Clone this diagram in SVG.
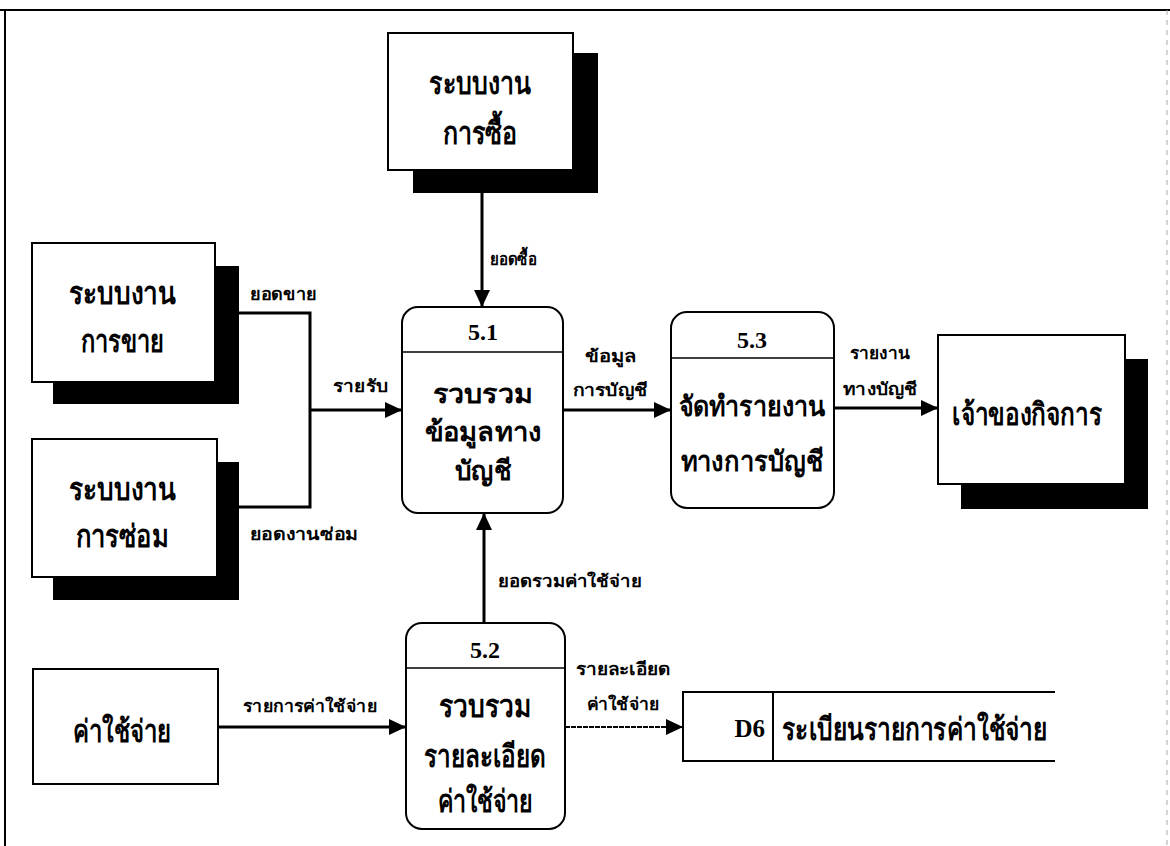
<svg xmlns="http://www.w3.org/2000/svg" width="1170" height="846" viewBox="0 0 1170 846">
<style>
.bg{fill:#fff}
.box{fill:#fff;stroke:#000;stroke-width:2}
.sh{fill:#000}
.proc{fill:#fff;stroke:#000;stroke-width:2}
.div{stroke:#000;stroke-width:1.5;fill:none}
.t{font-family:"Noto Sans","DejaVu Sans",sans-serif;font-weight:bold;font-size:31px;fill:#000;text-anchor:middle;dominant-baseline:central}
.tc{font-family:"Noto Sans","DejaVu Sans",sans-serif;font-weight:bold;font-size:27px;fill:#000;text-anchor:middle;dominant-baseline:central}
.tw{font-family:"Noto Sans","DejaVu Sans",sans-serif;font-weight:bold;font-size:28px;fill:#000;text-anchor:middle;dominant-baseline:central}
.ts{font-family:"Noto Sans","DejaVu Sans",sans-serif;font-weight:bold;font-size:31px;fill:#000;text-anchor:start;dominant-baseline:central}
.num{font-family:"Liberation Serif",serif;font-weight:bold;font-size:24px;fill:#000;text-anchor:middle;dominant-baseline:central}
.nume{font-family:"Liberation Serif",serif;font-weight:bold;font-size:25px;fill:#000;text-anchor:end;dominant-baseline:central}
.lb{font-family:"Noto Sans","DejaVu Sans",sans-serif;font-weight:bold;font-size:17px;fill:#000;text-anchor:start;dominant-baseline:central}
.lm{font-family:"Noto Sans","DejaVu Sans",sans-serif;font-weight:bold;font-size:17px;fill:#000;text-anchor:middle;dominant-baseline:central}
.c{stroke:#000;stroke-width:3;fill:none}
.cd{stroke:#000;stroke-width:2;fill:none;stroke-dasharray:5 1}
.frame{stroke:#000;stroke-width:2;fill:none}
</style>
<defs>
<marker id="ah" markerUnits="userSpaceOnUse" markerWidth="18" markerHeight="16" refX="17" refY="8" orient="auto">
<path d="M0,0 L17,8 L0,16 z" fill="#000"/>
</marker>
</defs>
<rect class="bg" x="0" y="0" width="1170" height="846"/>
<g id="frame">
<path class="frame" d="M0,10 H1170 M5,10 V846"/>
<path d="M1167,10 V846" stroke="#aaa" stroke-width="1" stroke-dasharray="5 5" fill="none"/>
</g>
<g id="connectors">
<path class="c" d="M482,193 V307" marker-end="url(#ah)"/>
<path class="c" d="M239,313 H310 V507 H239"/>
<path class="c" d="M310,410 H402" marker-end="url(#ah)"/>
<path class="c" d="M563,410 H671" marker-end="url(#ah)"/>
<path class="c" d="M834,408 H938" marker-end="url(#ah)"/>
<path class="c" d="M484,623 V513" marker-end="url(#ah)"/>
<path class="c" d="M218,727 H406" marker-end="url(#ah)"/>
<path class="cd" d="M565,727 H683" marker-end="url(#ah)"/>
<text class="lb" x="490" y="258" textLength="47" lengthAdjust="spacingAndGlyphs">ยอดซื้อ</text>
<text class="lb" x="250" y="293" textLength="67" lengthAdjust="spacingAndGlyphs">ยอดขาย</text>
<text class="lb" x="250" y="533" textLength="108" lengthAdjust="spacingAndGlyphs">ยอดงานซ่อม</text>
<text class="lb" x="333" y="385" textLength="55" lengthAdjust="spacingAndGlyphs">รายรับ</text>
<text class="lm" x="610" y="355" textLength="51" lengthAdjust="spacingAndGlyphs">ข้อมูล</text>
<text class="lm" x="610" y="389" textLength="75" lengthAdjust="spacingAndGlyphs">การบัญชี</text>
<text class="lm" x="880" y="352" textLength="60" lengthAdjust="spacingAndGlyphs">รายงาน</text>
<text class="lm" x="880" y="388" textLength="74" lengthAdjust="spacingAndGlyphs">ทางบัญชี</text>
<text class="lb" x="498" y="580" textLength="144" lengthAdjust="spacingAndGlyphs">ยอดรวมค่าใช้จ่าย</text>
<text class="lb" x="243" y="705" textLength="134" lengthAdjust="spacingAndGlyphs">รายการค่าใช้จ่าย</text>
<text class="lm" x="623" y="668" textLength="95" lengthAdjust="spacingAndGlyphs">รายละเอียด</text>
<text class="lm" x="623" y="703" textLength="73" lengthAdjust="spacingAndGlyphs">ค่าใช้จ่าย</text>
</g>
<g id="purchase">
<rect class="sh" x="413" y="53" width="185" height="140"/>
<rect class="box" x="388" y="33" width="185" height="137"/>
<text class="t" x="480" y="82" textLength="102" lengthAdjust="spacingAndGlyphs">ระบบงาน</text>
<text class="t" x="480" y="132" textLength="75" lengthAdjust="spacingAndGlyphs">การซื้อ</text>
</g>
<g id="sales">
<rect class="sh" x="53" y="266" width="186" height="138"/>
<rect class="box" x="32" y="243" width="183" height="139"/>
<text class="t" x="122" y="292" textLength="107" lengthAdjust="spacingAndGlyphs">ระบบงาน</text>
<text class="t" x="122" y="340" textLength="83" lengthAdjust="spacingAndGlyphs">การขาย</text>
</g>
<g id="repair">
<rect class="sh" x="53" y="462" width="186" height="138"/>
<rect class="box" x="32" y="439" width="185" height="138"/>
<text class="t" x="122" y="488" textLength="107" lengthAdjust="spacingAndGlyphs">ระบบงาน</text>
<text class="t" x="122" y="535" textLength="93" lengthAdjust="spacingAndGlyphs">การซ่อม</text>
</g>
<g id="owner">
<rect class="sh" x="961" y="359" width="187" height="150"/>
<rect class="box" x="938" y="335" width="187" height="149"/>
<text class="t" x="1027" y="413" textLength="150" lengthAdjust="spacingAndGlyphs">เจ้าของกิจการ</text>
</g>
<g id="expense">
<rect class="box" x="33" y="669" width="185" height="115"/>
<text class="t" x="122" y="730" textLength="98" lengthAdjust="spacingAndGlyphs">ค่าใช้จ่าย</text>
</g>
<g id="p51">
<rect class="proc" x="402" y="307" width="161" height="206" rx="16"/>
<path class="div" d="M402,352 H563"/>
<text class="num" x="483" y="332">5.1</text>
<text class="tc" x="483" y="392" textLength="101" lengthAdjust="spacingAndGlyphs">รวบรวม</text>
<text class="tc" x="483" y="430" textLength="117" lengthAdjust="spacingAndGlyphs">ข้อมูลทาง</text>
<text class="tc" x="483" y="469" textLength="56" lengthAdjust="spacingAndGlyphs">บัญชี</text>
</g>
<g id="p53">
<rect class="proc" x="671" y="312" width="163" height="196" rx="16"/>
<path class="div" d="M671,358 H834"/>
<text class="num" x="752" y="340">5.3</text>
<text class="tw" x="752" y="405" textLength="147" lengthAdjust="spacingAndGlyphs">จัดทำรายงาน</text>
<text class="tw" x="752" y="460" textLength="143" lengthAdjust="spacingAndGlyphs">ทางการบัญชี</text>
</g>
<g id="p52">
<rect class="proc" x="406" y="623" width="159" height="206" rx="16"/>
<path class="div" d="M406,668 H565"/>
<text class="num" x="485" y="650">5.2</text>
<text class="t" x="485" y="705" textLength="92" lengthAdjust="spacingAndGlyphs">รวบรวม</text>
<text class="t" x="485" y="755" textLength="122" lengthAdjust="spacingAndGlyphs">รายละเอียด</text>
<text class="t" x="485" y="800" textLength="95" lengthAdjust="spacingAndGlyphs">ค่าใช้จ่าย</text>
</g>
<g id="d6">
<path class="box" d="M1055,692 H683 V761 H1055 M773,692 V761" fill="none"/>
<text class="nume" x="765" y="728">D6</text>
<text class="ts" x="782" y="728" textLength="265" lengthAdjust="spacingAndGlyphs">ระเบียนรายการค่าใช้จ่าย</text>
</g>
</svg>
